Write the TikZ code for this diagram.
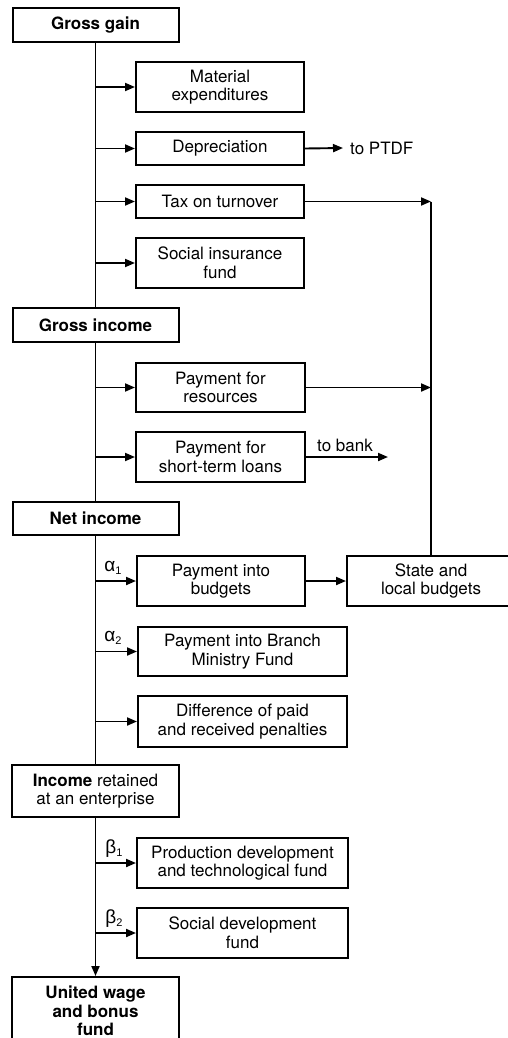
\documentclass[tikz,border=0pt]{standalone}
\usepackage{fontspec}
\setmainfont{TeX Gyre Heros}
\newfontfamily\grk{Liberation Sans}
\usetikzlibrary{arrows.meta}
\begin{document}
\begin{tikzpicture}[x=1pt,y=-1pt,
  box/.style={draw, line width=2pt, inner sep=0pt, align=center,
    font=\fontsize{17}{18.5}\selectfont},
  arr/.style={-{Triangle[length=10pt,width=8pt]}, line width=1.9pt},
  ln/.style={line width=1.9pt},
  coef/.style={inner sep=0pt, font=\grk\fontsize{19}{19}\selectfont},
  plain/.style={inner sep=0pt, font=\fontsize{17}{18.5}\selectfont}]
\useasboundingbox (0,0) rectangle (508,1038);
\fill[white] (0,0) rectangle (508,1038);
\clip (0,0) rectangle (508,1038);

% trunk boxes
\node[box, minimum width=166pt, minimum height=34pt] (gg) at (95.5,25) {\textbf{Gross gain}};
\node[box, minimum width=166pt, minimum height=34pt] (gi) at (95.5,325) {\textbf{Gross income}};
\node[box, minimum width=166pt, minimum height=33pt] (ni) at (95.5,518.5) {\textbf{Net income}};
\node[box, minimum width=167pt, minimum height=52pt] (ire) at (95.5,791) {\textbf{Income} retained\\at an enterprise};
\node[box, minimum width=167pt, minimum height=68pt] (uwb) at (95.5,1011) {\textbf{United wage}\\\textbf{and bonus}\\\textbf{fund}};

% branch boxes
\node[box, minimum width=168pt, minimum height=50pt] (me) at (220,87) {Material\\expenditures};
\node[box, minimum width=168pt, minimum height=33pt] (dep) at (220,148.5) {Depreciation};
\node[box, minimum width=168pt, minimum height=33pt] (tax) at (220,201.5) {Tax on turnover};
\node[box, minimum width=168pt, minimum height=50pt] (sif) at (220,263) {Social insurance\\fund};
\node[box, minimum width=169pt, minimum height=49pt] (pfr) at (220.5,387.5) {Payment for\\resources};
\node[box, minimum width=169pt, minimum height=50pt] (pstl) at (220.5,457) {Payment for\\short-term loans};
\node[box, minimum width=168pt, minimum height=50pt] (pib) at (221,581) {Payment into\\budgets};
\node[box, minimum width=168pt, minimum height=50pt] (slb) at (431,581) {State and\\local budgets};
\node[box, minimum width=209pt, minimum height=49pt] (pbm) at (242.5,651.5) {Payment into Branch\\Ministry Fund};
\node[box, minimum width=209pt, minimum height=51pt] (dpp) at (242.5,721.5) {Difference of paid\\and received penalties};
\node[box, minimum width=211pt, minimum height=50pt] (pdt) at (242.5,863) {Production development\\and technological fund};
\node[box, minimum width=211pt, minimum height=50pt] (sdf) at (242.5,933) {Social development\\fund};

% free-end labels
\node[plain, anchor=west] (ptdf) at (350,148) {to PTDF};
\coordinate (bankend) at (388,457);
\node[plain, anchor=south] (bank) at (345,452) {to bank};

% trunk
\draw[ln] (gg.south) -- (gi.north);
\draw[ln] (gi.south) -- (ni.north);
\draw[ln] (ni.south) -- (ire.north);
\draw[arr] (ire.south) -- (uwb.north);

% branches from trunk
\foreach \b in {me,dep,tax,sif}
  \draw[arr] (\b.west -| gg.south) -- (\b.west);
\foreach \b in {pfr,pstl}
  \draw[arr] (\b.west -| gi.south) -- (\b.west);
\foreach \b in {pib,pbm,dpp}
  \draw[arr] (\b.west -| ni.south) -- (\b.west);
\foreach \b in {pdt,sdf}
  \draw[arr] (\b.west -| ire.south) -- (\b.west);

% coefficients
\node[coef] (a1) at (113,568) {α\raisebox{-3pt}{\fontsize{11}{11}\selectfont 1}};
\node[coef] (a2) at (113,638) {α\raisebox{-3pt}{\fontsize{11}{11}\selectfont 2}};
\node[coef] (b1) at (114,849) {β\raisebox{-3pt}{\fontsize{11}{11}\selectfont 1}};
\node[coef] (b2) at (114,919) {β\raisebox{-3pt}{\fontsize{11}{11}\selectfont 2}};

% outgoing arrows
\draw[arr] (dep.east) -- ([xshift=-7pt]ptdf.west);
\draw[arr] (pstl.east) -- (bankend);
\coordinate (j1) at (slb.north |- tax.east);
\draw[arr] (tax.east) -- (j1);
\draw[ln] (j1) -- (slb.north);
\draw[arr] (pfr.east) -- (pfr.east -| slb.north);
\draw[arr] (pib.east) -- (slb.west);
\end{tikzpicture}
\end{document}
